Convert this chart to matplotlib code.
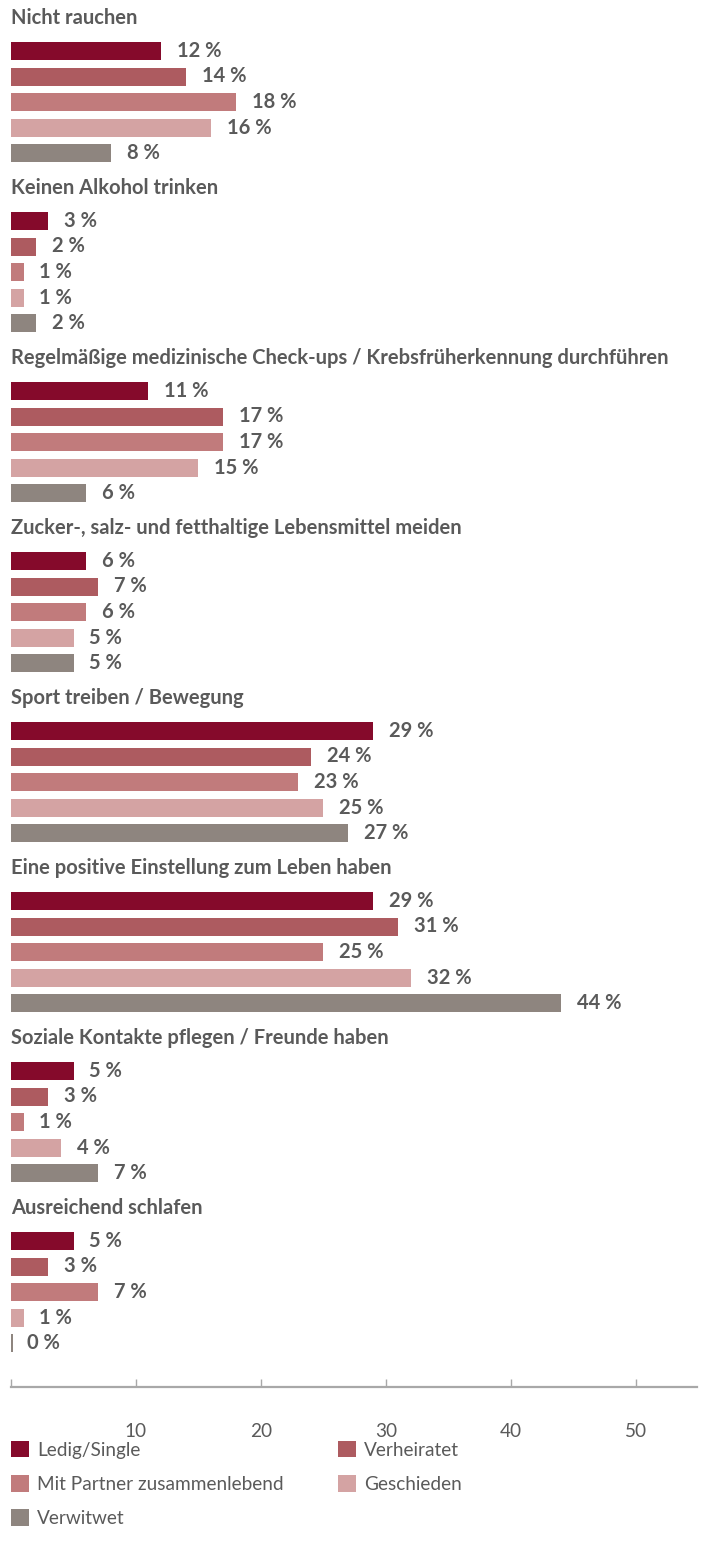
import numpy as np
import matplotlib
matplotlib.use('Agg')
import matplotlib.pyplot as plt
from matplotlib.patches import Patch

plt.rcParams['font.family'] = ['Lato', 'DejaVu Sans']

# Data
categories = ['Nicht rauchen',
              'Keinen Alkohol trinken',
              'Regelmäßige medizinische Check-ups / Krebsfrüherkennung durchführen',
              'Zucker-, salz- und fetthaltige Lebensmittel meiden',
              'Sport treiben / Bewegung',
              'Eine positive Einstellung zum Leben haben',
              'Soziale Kontakte pflegen / Freunde haben',
              'Ausreichend schlafen']
series_names = ['Ledig/Single', 'Verheiratet', 'Mit Partner zusammenlebend',
                'Geschieden', 'Verwitwet']
ledig = [12, 3, 11, 6, 29, 29, 5, 5]
verheiratet = [14, 2, 17, 7, 24, 31, 3, 3]
partner = [18, 1, 17, 6, 23, 25, 1, 7]
geschieden = [16, 1, 15, 5, 25, 32, 4, 1]
verwitwet = [8, 2, 6, 5, 27, 44, 7, 0]
series = [ledig, verheiratet, partner, geschieden, verwitwet]
tick_values = [0, 10, 20, 30, 40, 50]
tick_labels = ['', '10', '20', '30', '40', '50']

colors = ['#850a2b', '#ad5b60', '#c17b7c', '#d4a3a3', '#8e857f']
text_color = '#5a5a5a'

W, H = 704, 1549
fig = plt.figure(figsize=(W / 100, H / 100), dpi=100)
axis_y = 1387
ax = fig.add_axes([11 / W, (H - axis_y) / H, (697 - 11) / W, axis_y / H])
ax.set_xlim(0, (697 - 11) / 12.5)
ax.set_ylim(axis_y, 0)

group_step = 170
bar_step = 25.5
for g, cat in enumerate(categories):
    top = g * group_step
    ax.text(0, top + 18, cat, fontsize=14.5, fontweight='bold', color=text_color,
            va='center', ha='left')
    for i, vals in enumerate(series):
        v = vals[g]
        y = top + 51 + i * bar_step
        ax.barh(y, max(v, 0.15), height=18, color=colors[i], linewidth=0)
        ax.annotate(f'{v} %', (v, y), xytext=(11.5, 0), textcoords='offset points',
                    fontsize=14.5, fontweight='bold', color=text_color,
                    va='center', ha='left')

for s in ['top', 'right', 'left']:
    ax.spines[s].set_visible(False)
ax.spines['bottom'].set_color('#a8a8a8')
ax.spines['bottom'].set_linewidth(1.6)
ax.set_yticks([])
ax.set_xticks(tick_values)
ax.set_xticklabels(tick_labels)
ax.tick_params(axis='x', direction='in', length=6, width=1, color='#a8a8a8',
               labelsize=13.7, labelcolor=text_color, pad=26)

# legend filled row by row like the original
order = [0, 2, 4, 1, 3]
handles = [Patch(facecolor=colors[k], edgecolor='none') for k in order]
labels = [series_names[k] for k in order]
fig.legend(handles, labels, loc='upper left', bbox_to_anchor=(11 / W, (H - 1441) / H),
           ncol=2, frameon=False, fontsize=13.7, labelcolor=text_color,
           handlelength=0.95, handleheight=0.95, handletextpad=0.42,
           columnspacing=2.85, labelspacing=0.86, borderpad=0, borderaxespad=0)

fig.savefig('out.png', dpi=100, facecolor='white')
